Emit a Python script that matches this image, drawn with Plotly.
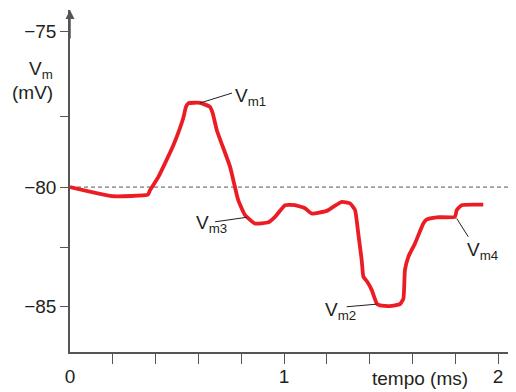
import plotly.graph_objects as go

# time (ms)
t_ms = [0.000, 0.196, 0.364, 0.374, 0.413, 0.483, 0.529, 0.542, 0.553, 0.607, 0.654,
        0.667, 0.686, 0.748, 0.786, 0.818, 0.864, 0.927, 0.958, 1.005, 1.051, 1.098,
        1.129, 1.200, 1.230, 1.270, 1.308, 1.332, 1.347, 1.363, 1.371, 1.389, 1.410,
        1.433, 1.449, 1.495, 1.542, 1.558, 1.565, 1.581, 1.612, 1.651, 1.667, 1.714,
        1.799, 1.807, 1.830, 1.931]
# membrane potential (mV)
vm_mv = [-80.00, -80.38, -80.32, -80.13, -79.57, -78.24, -77.11, -76.63, -76.48, -76.46, -76.63,
         -76.90, -77.61, -79.15, -80.55, -81.18, -81.53, -81.48, -81.25, -80.76, -80.76, -80.89,
         -81.11, -81.00, -80.83, -80.62, -80.68, -80.97, -81.95, -83.07, -83.77, -83.98, -84.33,
         -84.89, -84.97, -85.00, -84.92, -84.68, -83.49, -82.93, -82.37, -81.53, -81.36, -81.27,
         -81.25, -80.97, -80.76, -80.74]

resting_mv = -80

# axis ticks (schematic y scale of the original drawing)
y_tick_vals = [-73.45, -77.02, -80, -82.52, -85]
y_tick_text = ["\u221275", "", "\u221280", "", "\u221285"]
x_tick_vals = [0, 1, 2]
x_tick_text = ["0", "1", "2"]
x_minor_vals = [0.2, 0.4, 0.6, 0.8, 1.0, 1.2, 1.4, 1.6, 1.8, 2.0]

# labelled points: name, point (t, v), label anchor (t, v), side
labels = ["m1", "m3", "m2", "m4"]
label_pts = [(0.607, -76.47), (0.678, -81.46), (1.293, -85.03), (1.807, -81.32)]
label_ends = [(0.757, -76.05), (0.826, -81.27), (1.433, -84.92), (1.861, -82.09)]
label_pos = [(0.762, -76.22, "left"), (0.743, -81.55, "right"),
             (1.346, -85.21, "right"), (1.846, -82.69, "left")]

TXT = "#231f20"
AX = "#555555"
FONT = "Liberation Sans, Arial, sans-serif"

fig = go.Figure()
fig.add_trace(go.Scatter(x=t_ms, y=vm_mv, mode="lines",
                         line=dict(color="#ec1c24", width=3.8, shape="spline", smoothing=0.4),
                         hoverinfo="skip", showlegend=False))

fig.add_shape(type="line", xref="x", yref="y", x0=0, x1=2.07, y0=resting_mv, y1=resting_mv,
              line=dict(color="#555555", width=1, dash="4px,3px"), layer="below")

for (px, py), (ex, ey) in zip(label_pts, label_ends):
    fig.add_shape(type="line", xref="x", yref="y", x0=px, y0=py, x1=ex, y1=ey,
                  line=dict(color=TXT, width=1))

for name, (lx, ly, side) in zip(labels, label_pos):
    fig.add_annotation(x=lx, y=ly, xref="x", yref="y", xanchor=side, yanchor="middle",
                       text="V<sub>%s</sub>" % name, showarrow=False,
                       font=dict(size=19, color=TXT, family=FONT))

# y axis title
fig.add_annotation(x=0, y=0.825, xref="paper", yref="paper", xanchor="right", yanchor="middle",
                   xshift=-15, text="V<sub>m</sub>", showarrow=False,
                   font=dict(size=19, color=TXT, family=FONT))
fig.add_annotation(x=0, y=0.760, xref="paper", yref="paper", xanchor="right", yanchor="middle",
                   xshift=-15, text="(mV)", showarrow=False,
                   font=dict(size=19, color=TXT, family=FONT))
# x axis title
fig.add_annotation(x=1.636, y=0, xref="x", yref="paper", xanchor="center", yanchor="top",
                   yshift=-14, text="tempo (ms)", showarrow=False,
                   font=dict(size=19, color=TXT, family=FONT))
# arrow on y axis
fig.add_annotation(x=0, y=1, xref="x", yref="paper", ax=0, ay=30, text="",
                   showarrow=True, arrowhead=2, arrowsize=1.2, arrowwidth=1.5,
                   arrowcolor=AX)

# page body has an 8px margin, so the figure is sized/offset to compensate
fig.update_layout(
    width=508, height=384,
    margin=dict(l=62, r=0, t=2, b=40),
    paper_bgcolor="white", plot_bgcolor="white",
    font=dict(family=FONT, size=19, color=TXT),
    xaxis=dict(range=[0, 2.084], showgrid=False, zeroline=False, showline=True,
               linecolor=AX, linewidth=1.5, tickvals=x_tick_vals, ticktext=x_tick_text,
               ticks="", ticklabelstandoff=6,
               minor=dict(tickvals=x_minor_vals, ticks="outside", ticklen=10,
                          tickcolor=AX, tickwidth=1.2, showgrid=False),
               tickfont=dict(size=19, color=TXT, family=FONT), fixedrange=True),
    yaxis=dict(range=[-86.93, -72.56], showgrid=False, zeroline=False, showline=True,
               linecolor=AX, linewidth=1.5, tickvals=y_tick_vals, ticktext=y_tick_text,
               ticks="outside", ticklen=8, tickcolor=AX, tickwidth=1.2,
               tickfont=dict(size=19, color=TXT, family=FONT), fixedrange=True),
)

fig.write_html("out.html")
